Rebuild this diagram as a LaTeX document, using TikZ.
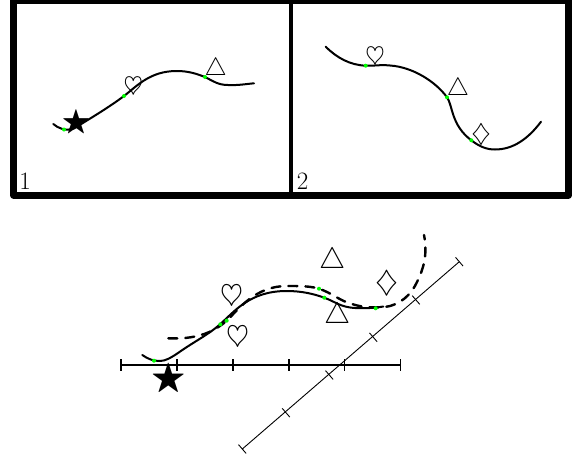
\documentclass[tikz,border=0pt]{standalone}
\usepackage{amssymb}
\newcommand{\symA}[1]{\scalebox{2.5}{$#1$}}
\newcommand{\symB}[1]{\scalebox{2.95}{$#1$}}
\tikzset{
  curvesolid/.style={line width=2pt,line cap=round},
  curvedash/.style={line width=2.4pt,line cap=round,dash pattern=on 9pt off 8pt},
  axisline/.style={line width=1.1pt},
  diagline/.style={line width=0.9pt},
  dot/.style={circle,fill=green,inner sep=0pt,minimum size=4pt},
  symnode/.style={inner sep=0pt},
  numlabel/.style={inner sep=0pt,font=\fontsize{25}{25}\selectfont},
}
\begin{document}
\begin{tikzpicture}[x=1pt,y=-1pt]
\useasboundingbox (0,0) rectangle (577,461);
\fill[white] (0,0) rectangle (577,461);
% frame
\draw[line width=7pt,line join=round] (13.5,0.8) rectangle (568.5,195);
\draw[line width=3.4pt] (291,0) -- (291,195);
% panel 1
\draw[curvesolid] (53.3,124) .. controls (58,128) and (65,131.5) .. (74,128.5)
  .. controls (90,118.5) and (108,108) .. (124,96)
  .. controls (137,86) and (150,71) .. (176.7,71)
  .. controls (189,71) and (197,74) .. (205,77)
  .. controls (213,81) and (218,85) .. (228,85)
  .. controls (238,85.5) and (246,84) .. (254,83.3);
\node[symnode] (s1) at (76,122.7) {\scalebox{3}{$\bigstar$}};
\node[symnode] (h1) at (133.3,87.7) {\symA{\heartsuit}};
\node[symnode] (t1) at (215.7,69) {\symA{\triangle}};
\node[dot] (d1a) at (64,129.5) {};
\node[dot] (d1b) at (124,96) {};
\node[dot] (d1c) at (205,77) {};
\node[numlabel] (n1) at (25,181.7) {1};
% panel 2
\draw[curvesolid] (325.7,46.7) .. controls (337,58) and (350,65) .. (365.7,65.7)
  .. controls (375,66) and (380,64.5) .. (390,65.5)
  .. controls (413,67) and (436,82) .. (447,97.3)
  .. controls (453,106) and (451,125) .. (471.3,140.3)
  .. controls (480,147) and (487,149.5) .. (495,149.5)
  .. controls (513,149.5) and (528,139) .. (541,121.7);
\node[symnode] (h2) at (375,57) {\symA{\heartsuit}};
\node[symnode] (t2) at (458,89.5) {\symA{\triangle}};
\node[symnode] (q2) at (481,134) {\symA{\diamondsuit}};
\node[dot] (d2a) at (365.7,65.7) {};
\node[dot] (d2b) at (447,97.3) {};
\node[dot] (d2c) at (471.3,140.3) {};
\node[numlabel] (n2) at (302.7,181.7) {2};
% axes
\coordinate (ha) at (121,365);
\coordinate (hb) at (400.7,365);
\draw[axisline] (ha) -- (hb);
\foreach \x in {121,177,233,289,344.7,400.7}
  \draw[axisline] (\x,359.2) -- (\x,370.8);
\coordinate (da) at (242.3,449);
\coordinate (db) at (459.3,261.7);
\draw[diagline] (da) -- (db);
\foreach \x/\y in {242.3/449,286/412.7,329.3/375,373.3/337.3,416/300,459.3/261.7}
  \draw[diagline] (\x-3.8,\y-4.4) -- (\x+3.8,\y+4.4);
% bottom curves
\draw[curvesolid] (142.3,355) .. controls (148,359) and (153,361) .. (160,361)
  .. controls (166,361) and (172,357) .. (178,353)
  .. controls (195,341) and (208,335) .. (220,324.3)
  .. controls (235,311) and (250,291) .. (286.7,291)
  .. controls (302,291) and (314,294) .. (324.3,297.7)
  .. controls (336,302) and (340,307) .. (355,308)
  .. controls (365,308.5) and (375,308) .. (383.3,306.5);
\draw[curvedash] (168.3,338.3) .. controls (185,339) and (198,337) .. (210,331.7)
  .. controls (217,328) and (222,325) .. (226.7,320.7)
  .. controls (238,310) and (255,286) .. (286.7,286)
  .. controls (300,286) and (310,286) .. (319,288.7)
  .. controls (332,293) and (340,301) .. (352,304)
  .. controls (362,307.5) and (375,308) .. (385,307)
  .. controls (400,305) and (411,295) .. (417,282)
  .. controls (423,270) and (428,255) .. (424,235);
\node[symnode] (h3) at (231.7,297.2) {\symB{\heartsuit}};
\node[symnode] (h4) at (238.3,337.7) {\symB{\heartsuit}};
\node[symnode] (t3) at (332.3,261.5) {\symB{\triangle}};
\node[symnode] (t4) at (337.7,315.8) {\symB{\triangle}};
\node[symnode] (q3) at (387.3,282.7) {\symB{\diamondsuit}};
\node[symnode] (s3) at (168.3,379.3) {\scalebox{3.65}{$\bigstar$}};
\foreach \n/\x/\y in {a/154/360.7,b/220.3/324.3,c/324.3/297.7,d/375.7/308.3,e/226.7/320.7,f/319/288.7}
  \node[dot] (d3\n) at (\x,\y) {};
\end{tikzpicture}
\end{document}
